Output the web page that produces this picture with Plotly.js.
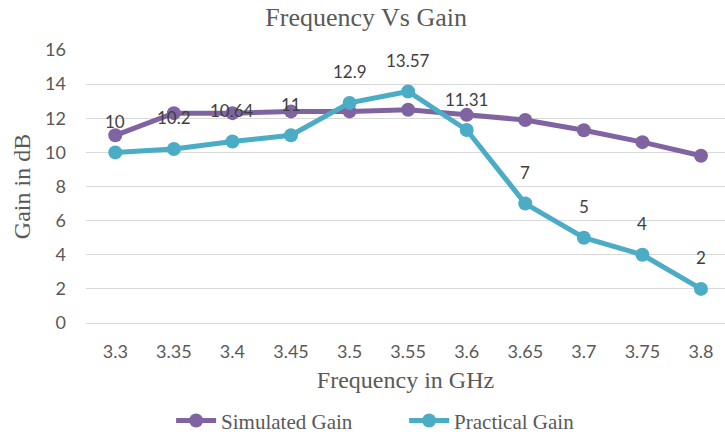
<!DOCTYPE html>
<html>
<head>
<meta charset="utf-8">
<script src="https://cdn.plot.ly/plotly-3.0.1.min.js"></script>
<style>html,body{margin:0;padding:0;background:#fff;}#chart{width:725px;height:437px;}</style>
</head>
<body>
<div id="chart"></div>
<script>
// Frequency sweep (GHz) and measured / simulated gain (dB)
const frequencies = ['3.3', '3.35', '3.4', '3.45', '3.5', '3.55', '3.6', '3.65', '3.7', '3.75', '3.8'];
const simulatedGain = [11, 12.3, 12.3, 12.4, 12.4, 12.5, 12.2, 11.9, 11.3, 10.6, 9.8];
const practicalGain = [10, 10.2, 10.64, 11, 12.9, 13.57, 11.31, 7, 5, 4, 2];
const yTicks = [0, 2, 4, 6, 8, 10, 12, 14, 16];

const serif = '"Liberation Serif", "Times New Roman", serif';
const sans = 'Lato, "Noto Sans", sans-serif';

const traces = [
  {
    x: frequencies, y: simulatedGain, name: 'Simulated Gain',
    type: 'scatter', mode: 'lines+markers',
    line: {color: '#8064A2', width: 5},
    marker: {color: '#8064A2', size: 14}
  },
  {
    x: frequencies, y: practicalGain, name: 'Practical Gain',
    type: 'scatter', mode: 'lines+markers',
    line: {color: '#4BACC6', width: 5},
    marker: {color: '#4BACC6', size: 14}
  }
];

// value labels above the practical-gain points (x as category index)
const labels = practicalGain.map((v, i) => ({
  x: i, y: v, xref: 'x', yref: 'y',
  text: String(v), showarrow: false,
  yshift: 31, font: {family: sans, size: 17, color: '#404040'}
}));

const layout = {
  width: 725, height: 437,
  margin: {l: 86, r: 0, t: 50, b: 114},
  paper_bgcolor: '#fff', plot_bgcolor: '#fff',
  title: {
    text: 'Frequency Vs Gain', x: 0.505, xanchor: 'center',
    y: 0.961, yanchor: 'middle',
    font: {family: serif, size: 26, color: '#595959'}
  },
  xaxis: {
    type: 'category', range: [-0.5, 10.41], automargin: false,
    showgrid: false, zeroline: false, showline: false, ticks: '',
    ticklabelstandoff: 16,
    tickfont: {family: sans, size: 18, color: '#595959'},
    title: {text: 'Frequency in GHz', standoff: 10, font: {family: serif, size: 24, color: '#595959'}}
  },
  yaxis: {
    range: [0, 16], tickvals: yTicks, ticktext: yTicks.map(String), automargin: false,
    showgrid: true, gridcolor: '#d9d9d9', gridwidth: 1,
    zeroline: true, zerolinecolor: '#d9d9d9', zerolinewidth: 1,
    showline: false, ticks: '', ticklabelstandoff: 19,
    tickfont: {family: sans, size: 18, color: '#595959'},
    title: {text: 'Gain in dB', standoff: 7, font: {family: serif, size: 24, color: '#595959'}}
  },
  showlegend: true,
  legend: {
    orientation: 'h', xref: 'container', yref: 'container',
    x: 0.236, xanchor: 'left', y: 0.037, yanchor: 'middle',
    font: {family: serif, size: 21, color: '#595959'},
    itemwidth: 40, entrywidth: 178
  },
  annotations: labels
};

Plotly.newPlot('chart', traces, layout, {displayModeBar: false, staticPlot: true});
</script>
</body>
</html>
